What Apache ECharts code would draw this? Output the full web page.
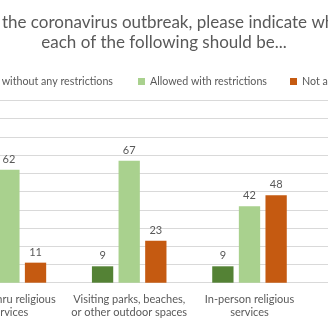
<!DOCTYPE html>
<html><head><meta charset="utf-8">
<script src="https://cdn.jsdelivr.net/npm/echarts@6/dist/echarts.min.js"></script>
<style>
html,body{margin:0;padding:0;width:328px;height:328px;overflow:hidden;background:#fff;position:relative}
#c{position:absolute;left:-136px;top:0;width:600px;height:328px}
</style></head>
<body><div id="c"></div>
<script>
const titleLines = ['Given the coronavirus outbreak, please indicate whether', 'each of the following should be...'];
const categories = ['Drive-thru religious\nservices', 'Visiting parks, beaches,\nor other outdoor spaces', 'In-person religious\nservices', 'In-person dining'];
const seriesNames = ['Allowed without any restrictions', 'Allowed with restrictions', 'Not allowed'];
const withoutRestrictions = [27, 9, 9, null];
const withRestrictions = [62, 67, 42, null];
const notAllowed = [11, 23, 48, null];
const colors = ['#548235', '#a9d18e', '#c55a11'];

const font = 'Lato';
const legendText = {fontFamily: font, fontSize: 10.7, color: '#595959'};
const legendBase = {top: 71, itemWidth: 7, itemHeight: 7, icon: 'rect', textStyle: legendText};

const chart = echarts.init(document.getElementById('c'), null, {renderer: 'canvas'});
const labelCfg = {show: true, position: 'top', distance: 5, color: '#595959', fontSize: 11, fontFamily: font};
const mk = (name, data, color) => ({
  name, type: 'bar', data, barWidth: 21.3, barGap: '25%',
  itemStyle: {color}, label: labelCfg, animation: false
});
chart.setOption({
  animation: false,
  title: {text: titleLines.join('\n'), left: 'center', top: 8,
    textStyle: {fontFamily: font, fontSize: 17, fontWeight: 'normal', color: '#595959', lineHeight: 20}},
  legend: [
    Object.assign({right: 346, data: [seriesNames[0]]}, legendBase),
    Object.assign({left: 269, data: [seriesNames[1]]}, legendBase),
    Object.assign({left: 421, data: [seriesNames[2]]}, legendBase)
  ],
  grid: {left: 84.75, right: 34.05, top: 100.5, bottom: 45.3},
  xAxis: {type: 'category', data: categories,
    axisLine: {lineStyle: {color: '#d9d9d9'}}, axisTick: {show: false},
    axisLabel: {color: '#595959', fontSize: 11, fontFamily: font, lineHeight: 13, margin: 10, interval: 0}},
  yAxis: {type: 'value', min: 0, max: 100, interval: 10,
    axisLabel: {show: false}, axisLine: {show: false}, axisTick: {show: false},
    splitLine: {lineStyle: {color: '#d9d9d9'}}},
  series: [mk(seriesNames[0], withoutRestrictions, colors[0]), mk(seriesNames[1], withRestrictions, colors[1]), mk(seriesNames[2], notAllowed, colors[2])]
});
</script></body></html>
